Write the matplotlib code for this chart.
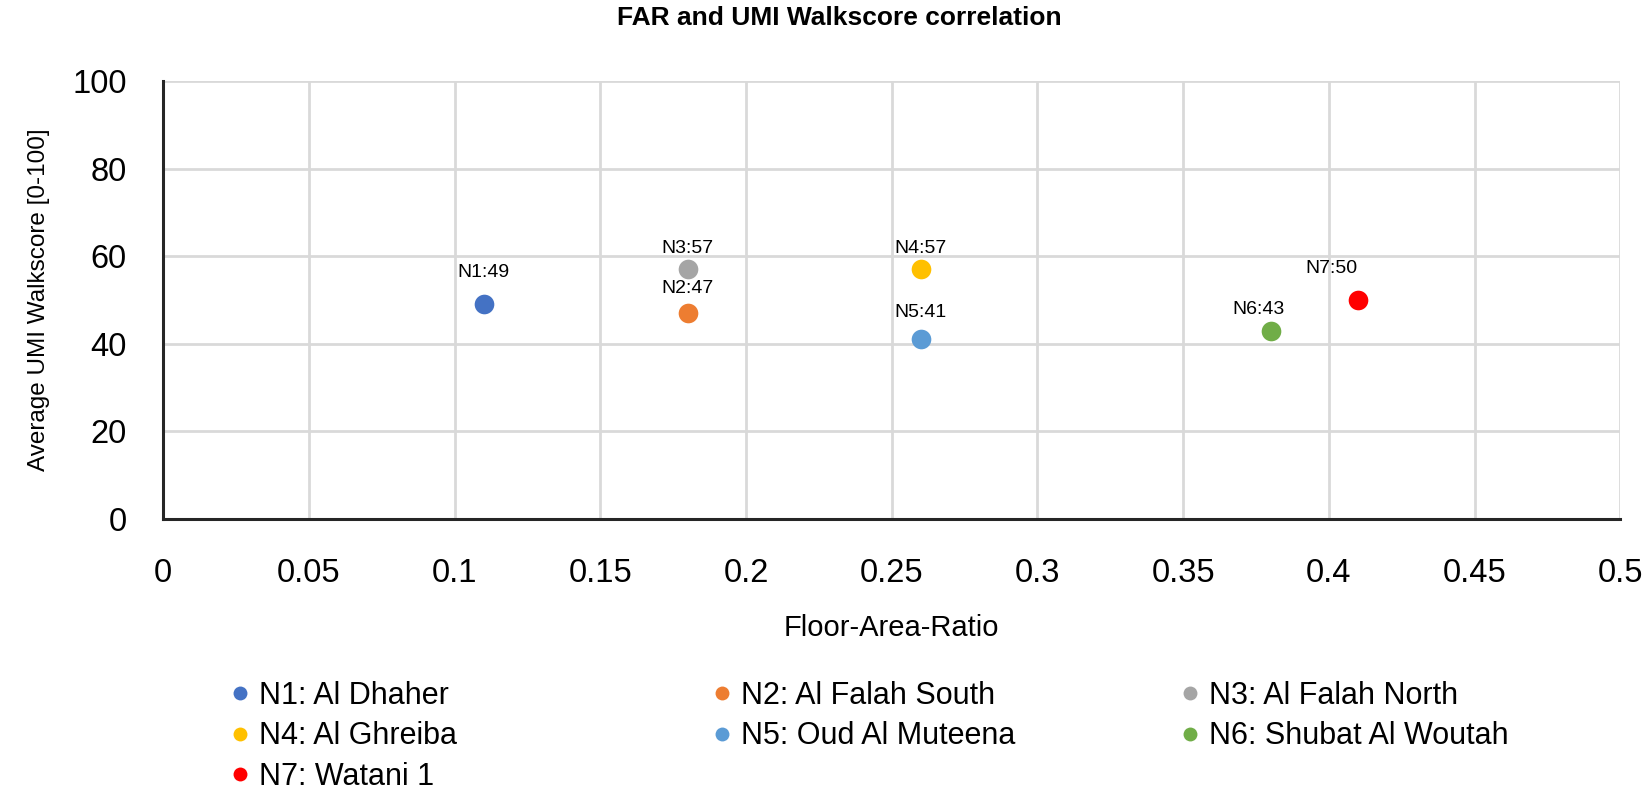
import matplotlib
matplotlib.use('Agg')
import matplotlib.pyplot as plt
from matplotlib.lines import Line2D

# data
names = ['N1: Al Dhaher', 'N2: Al Falah South', 'N3: Al Falah North', 'N4: Al Ghreiba',
         'N5: Oud Al Muteena', 'N6: Shubat Al Woutah', 'N7: Watani 1']
short = ['N1', 'N2', 'N3', 'N4', 'N5', 'N6', 'N7']
far = [0.11, 0.18, 0.18, 0.26, 0.26, 0.38, 0.41]
walkscore = [49, 47, 57, 57, 41, 43, 50]
colors = ['#4472C4', '#ED7D31', '#A5A5A5', '#FFC000', '#5B9BD5', '#70AD47', '#FF0000']
# label offsets in points (dx, dy)
label_off = [(0, 23), (0, 18), (0, 15), (0, 15), (0, 19), (-9, 15), (-19, 23)]

xticks = [0, 0.05, 0.1, 0.15, 0.2, 0.25, 0.3, 0.35, 0.4, 0.45, 0.5]
xticklabels = ['0', '0.05', '0.1', '0.15', '0.2', '0.25', '0.3', '0.35', '0.4', '0.45', '0.5']
yticks = [0, 20, 40, 60, 80, 100]

plt.rcParams['font.family'] = ['Liberation Sans', 'DejaVu Sans']

fig = plt.figure(figsize=(16.52, 7.91), dpi=100)
ax = fig.add_axes([0.0987, 0.344, 0.8822, 0.5536])

for i in range(len(far)):
    ax.scatter(far[i], walkscore[i], s=200, color=colors[i], zorder=3, linewidths=0)
    ax.annotate('%s:%d' % (short[i], walkscore[i]), (far[i], walkscore[i]),
                xytext=label_off[i], textcoords='offset points',
                ha='center', va='center', fontsize=14, color='#000000')

ax.set_xlim(0, 0.5)
ax.set_ylim(0, 100)
ax.set_xticks(xticks)
ax.set_xticklabels(xticklabels)
ax.set_yticks(yticks)
ax.tick_params(axis='both', length=0, labelsize=23.5, colors='#000000')
ax.tick_params(axis='x', pad=28)
ax.tick_params(axis='y', pad=26)
ax.grid(True, color='#d9d9d9', linewidth=2)
ax.set_axisbelow(True)
for s in ['top', 'right']:
    ax.spines[s].set_visible(False)
for s in ['left', 'bottom']:
    ax.spines[s].set_color('#262626')
    ax.spines[s].set_linewidth(2.2)

ax.set_xlabel('Floor-Area-Ratio', fontsize=21, labelpad=18)
ax.set_ylabel('Average UMI Walkscore [0-100]', fontsize=17.5, labelpad=16)
fig.text(0.508, 0.977, 'FAR and UMI Walkscore correlation', ha='center', va='center',
         fontsize=19, fontweight='bold')

# legend: three columns, filled row by row
handles = [Line2D([], [], marker='o', linestyle='none', markersize=10,
                  markerfacecolor=c, markeredgewidth=0) for c in colors]
col_x = [0.138, 0.4298, 0.7131]
for c in range(3):
    idx = list(range(c, len(names), 3))
    leg = fig.legend([handles[i] for i in idx], [names[i] for i in idx],
                     loc='upper left', bbox_to_anchor=(col_x[c], 0.139), frameon=False,
                     fontsize=22, handletextpad=0.22, labelspacing=0.34,
                     handlelength=0.8, borderaxespad=0, borderpad=0)

fig.savefig('out.png', dpi=100)
